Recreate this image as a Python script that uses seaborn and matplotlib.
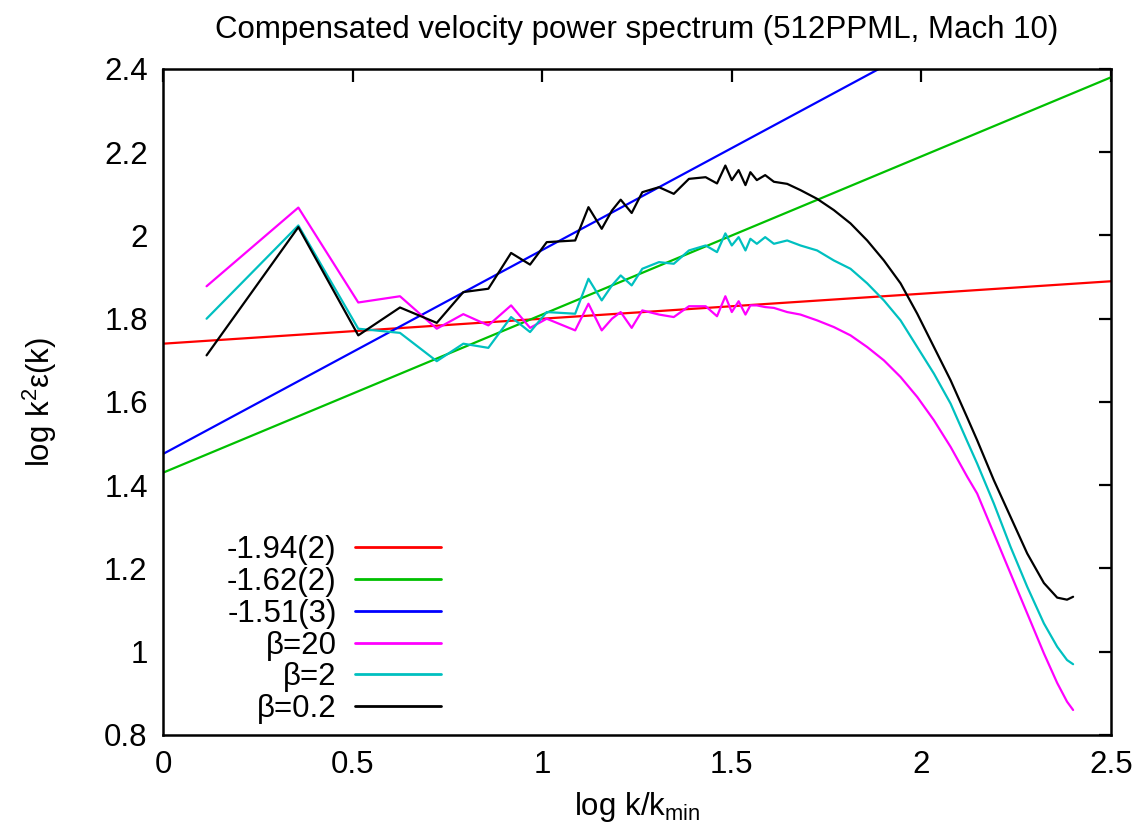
import numpy as np
import pandas as pd
import matplotlib
matplotlib.use("Agg")
import matplotlib.pyplot as plt
import seaborn as sns

# Spectres compensés (lecture sur la figure)
log_k = [0.115, 0.357, 0.515, 0.625, 0.722, 0.792, 0.858, 0.918, 0.968, 1.012,
         1.087, 1.122, 1.157, 1.184, 1.207, 1.236, 1.264, 1.308, 1.347, 1.387,
         1.431, 1.461, 1.483, 1.500, 1.518, 1.536, 1.549, 1.566, 1.588, 1.611,
         1.646, 1.681, 1.725, 1.769, 1.813, 1.857, 1.901, 1.945, 1.989, 2.033,
         2.077, 2.121, 2.147, 2.191, 2.235, 2.279, 2.323, 2.358, 2.384, 2.400]

beta_20 = [1.878, 2.067, 1.839, 1.854, 1.776, 1.811, 1.784, 1.832, 1.778, 1.800,
           1.772, 1.836, 1.772, 1.800, 1.816, 1.778, 1.820, 1.810, 1.804, 1.830,
           1.830, 1.806, 1.854, 1.816, 1.842, 1.810, 1.832, 1.832, 1.828, 1.826,
           1.816, 1.810, 1.796, 1.780, 1.760, 1.732, 1.700, 1.660, 1.612, 1.556,
           1.492, 1.420, 1.380, 1.284, 1.188, 1.092, 0.996, 0.925, 0.880, 0.860]

beta_2 = [1.800, 2.024, 1.776, 1.766, 1.698, 1.740, 1.730, 1.804, 1.768, 1.816,
          1.812, 1.896, 1.844, 1.880, 1.904, 1.880, 1.920, 1.936, 1.932, 1.964,
          1.976, 1.960, 2.005, 1.976, 1.996, 1.964, 1.992, 1.980, 1.996, 1.980,
          1.988, 1.976, 1.964, 1.940, 1.920, 1.885, 1.844, 1.796, 1.732, 1.668,
          1.596, 1.505, 1.452, 1.356, 1.252, 1.156, 1.068, 1.012, 0.980, 0.970]

beta_02 = [1.712, 2.020, 1.760, 1.827, 1.790, 1.864, 1.872, 1.958, 1.930, 1.984,
           1.988, 2.068, 2.016, 2.060, 2.086, 2.054, 2.104, 2.116, 2.100, 2.136,
           2.140, 2.125, 2.168, 2.133, 2.157, 2.121, 2.152, 2.133, 2.145, 2.129,
           2.124, 2.109, 2.088, 2.061, 2.029, 1.988, 1.940, 1.885, 1.812, 1.732,
           1.652, 1.562, 1.508, 1.412, 1.324, 1.236, 1.165, 1.130, 1.125, 1.132]

# Ajustements en loi de puissance (pente compensée = 2 + exposant)
fit_labels = ["-1.94(2)", "-1.62(2)", "-1.51(3)"]
fit_slopes = [0.06, 0.38, 0.49]
fit_intercepts = [1.74, 1.43, 1.475]
fit_x = [0.0, 2.5]

beta_labels = ["β=20", "β=2", "β=0.2"]
colors = ["#ff0000", "#00c000", "#0000ff", "#ff00ff", "#00c0c0", "#000000"]

# Construction du DataFrame long
rows = []
for lab, a, b in zip(fit_labels, fit_slopes, fit_intercepts):
    for xv in fit_x:
        rows.append({"x": xv, "y": b + a * xv, "serie": lab})
for lab, ys in zip(beta_labels, [beta_20, beta_2, beta_02]):
    for xv, yv in zip(log_k, ys):
        rows.append({"x": xv, "y": yv, "serie": lab})
df = pd.DataFrame(rows)

order = fit_labels + beta_labels
palette = dict(zip(order, colors))

sns.set_style("white")
plt.rcParams["font.family"] = ["Liberation Sans", "DejaVu Sans"]
plt.rcParams["mathtext.fontset"] = "custom"
plt.rcParams["mathtext.rm"] = "Liberation Sans"
plt.rcParams["text.color"] = "black"
plt.rcParams["axes.labelcolor"] = "black"

fs = 22.5

fig = plt.figure(figsize=(11.38, 8.30), dpi=100)
ax = fig.add_axes([0.1432, 0.1145, 0.8331, 0.8024])

sns.lineplot(data=df, x="x", y="y", hue="serie", hue_order=order, palette=palette,
             sort=False, estimator=None, linewidth=1.6, ax=ax, legend=False)

ax.set_xlim(0, 2.5)
ax.set_ylim(0.8, 2.4)
ax.set_xticks([0, 0.5, 1, 1.5, 2, 2.5])
ax.set_xticklabels(["0", "0.5", "1", "1.5", "2", "2.5"])
ax.set_yticks([0.8, 1.0, 1.2, 1.4, 1.6, 1.8, 2.0, 2.2, 2.4])
ax.set_yticklabels(["0.8", "1", "1.2", "1.4", "1.6", "1.8", "2", "2.2", "2.4"])
ax.tick_params(direction="in", length=9, width=1.6, top=True, right=True,
               labelsize=fs, colors="black")
ax.tick_params(axis="x", pad=11)
ax.tick_params(axis="y", pad=11)
for s in ax.spines.values():
    s.set_linewidth(1.8)
    s.set_color("black")

ax.set_xlabel(r"log k/k$\mathregular{_{min}}$", fontsize=fs, labelpad=7)
ax.set_ylabel(r"log k$\mathregular{^{2}}$ε(k)", fontsize=fs, labelpad=32)
ax.set_title("Compensated velocity power spectrum (512PPML, Mach 10)", fontsize=fs, pad=22)

handles = [plt.Line2D([], [], color=c, linewidth=2) for c in colors]
ax.legend(handles, order, loc="lower right", bbox_to_anchor=(0.293, 0.016),
          markerfirst=False, frameon=False, fontsize=fs, handlelength=2.75,
          handletextpad=0.58, labelspacing=0.06, borderpad=0, borderaxespad=0,
          labelcolor="black")

plt.savefig("out.png", dpi=100)
